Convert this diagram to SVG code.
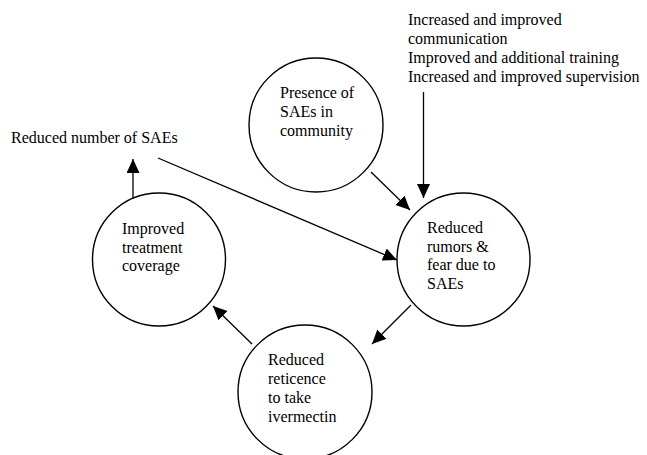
<svg xmlns="http://www.w3.org/2000/svg" width="647" height="455" viewBox="0 0 647 455">
<style>
.n{fill:#fff;stroke:#000;stroke-width:1.4}
.t{font-family:'Liberation Serif','Times New Roman',serif;font-size:16px;fill:#000}
.c line{stroke:#000;stroke-width:1.3;marker-end:url(#ah)}
</style>
<defs>
<marker id="ah" markerUnits="userSpaceOnUse" markerWidth="15" markerHeight="14" refX="14" refY="6.5" orient="auto">
<path d="M0,0 L14,6.5 L0,13 z" fill="#000"/>
</marker>
</defs>
<rect width="647" height="455" fill="#fff"/>
<g id="presence">
<circle class="n" cx="316" cy="125" r="67"/>
<text class="t" x="280" y="98">Presence of</text>
<text class="t" x="280" y="117">SAEs in</text>
<text class="t" x="280" y="136">community</text>
</g>
<g id="rumors">
<circle class="n" cx="463.5" cy="259.5" r="66.5"/>
<text class="t" x="427" y="233">Reduced</text>
<text class="t" x="427" y="252">rumors &amp;</text>
<text class="t" x="427" y="270">fear due to</text>
<text class="t" x="427" y="289">SAEs</text>
</g>
<g id="reticence">
<circle class="n" cx="305" cy="392" r="67"/>
<text class="t" x="268" y="365">Reduced</text>
<text class="t" x="268" y="384">reticence</text>
<text class="t" x="268" y="403">to take</text>
<text class="t" x="268" y="422">ivermectin</text>
</g>
<g id="coverage">
<circle class="n" cx="159" cy="259.5" r="66.5"/>
<text class="t" x="122" y="234">Improved</text>
<text class="t" x="122" y="253">treatment</text>
<text class="t" x="122" y="271">coverage</text>
</g>
<g id="reduced-saes">
<text class="t" x="11" y="143">Reduced number of SAEs</text>
</g>
<g id="interventions">
<text class="t" x="408" y="25">Increased and improved</text>
<text class="t" x="408" y="44">communication</text>
<text class="t" x="408" y="63">Improved and additional training</text>
<text class="t" x="408" y="82">Increased and improved supervision</text>
</g>
<g class="c" id="connectors">
<line x1="371" y1="172" x2="410" y2="210"/>
<line x1="423.5" y1="92" x2="423.5" y2="198"/>
<line x1="158" y1="158" x2="397" y2="260"/>
<line x1="411" y1="305" x2="372" y2="344"/>
<line x1="252" y1="344" x2="213" y2="306"/>
<line x1="133" y1="199" x2="133" y2="159"/>
</g>
</svg>
